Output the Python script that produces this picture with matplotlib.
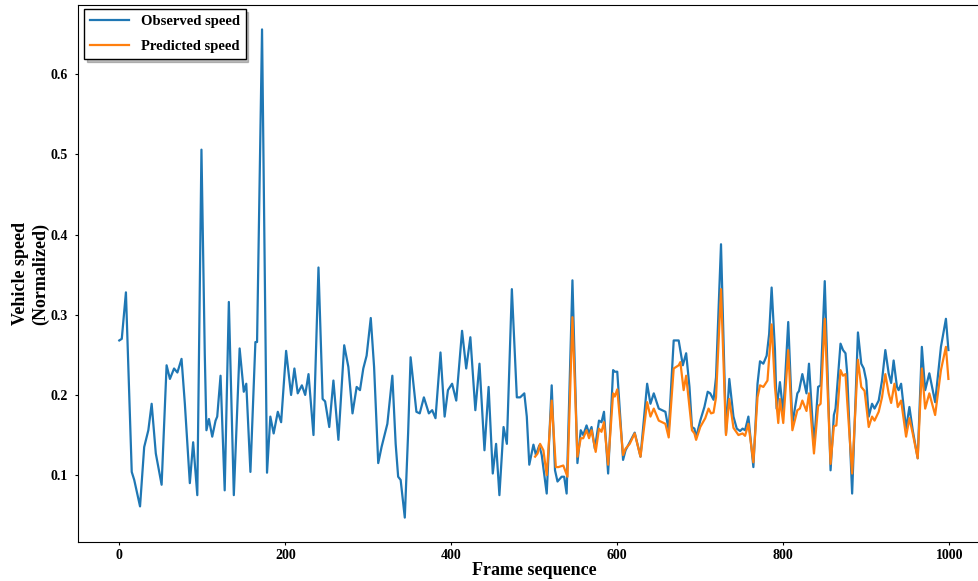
import matplotlib
matplotlib.use("Agg")
import matplotlib.pyplot as plt

# Observed speed trace (frame index, normalized speed)
obs_frame = [0, 3, 8, 15, 18, 25, 30, 35, 39, 44, 47, 51, 57, 61, 66, 70, 75, 79, 85, 89,
             94, 99, 103, 105, 108, 112, 116, 118, 122, 127, 132, 138, 145, 150, 153, 158, 164, 166, 172, 178,
             182, 186, 191, 195, 201, 207, 211, 215, 220, 224, 228, 234, 240, 245, 248, 253, 258, 264, 271, 276,
             281, 286, 290, 294, 298, 303, 307, 312, 316, 323, 329, 333, 336, 339, 344, 348, 351, 358, 362, 367,
             373, 377, 381, 387, 392, 396, 401, 406, 413, 418, 423, 429, 434, 440, 445, 450, 454, 458, 463, 467,
             473, 479, 483, 488, 491, 494, 499, 502, 506, 509, 515, 521, 525, 528, 533, 536, 539, 546, 552, 556,
             559, 563, 566, 569, 573, 578, 581, 584, 589, 595, 597, 600, 607, 610, 615, 621, 628, 636, 640, 644,
             650, 654, 658, 662, 668, 674, 679, 683, 687, 690, 693, 695, 700, 705, 709, 712, 716, 719, 725, 731,
             735, 740, 744, 748, 751, 754, 758, 764, 769, 772, 776, 780, 783, 786, 790, 792, 796, 800, 806, 811,
             817, 819, 823, 828, 831, 837, 842, 845, 850, 857, 861, 863, 869, 872, 875, 877, 883, 890, 894, 897,
             900, 903, 907, 910, 915, 919, 923, 927, 930, 933, 937, 939, 942, 948, 952, 956, 962, 967, 971, 976,
             983, 990, 996, 999]
obs_speed = [0.268, 0.270, 0.328, 0.104, 0.094, 0.061, 0.135, 0.156, 0.189, 0.127, 0.110, 0.088, 0.237, 0.220, 0.233, 0.228, 0.245, 0.189, 0.090, 0.141,
             0.075, 0.506, 0.251, 0.156, 0.170, 0.148, 0.168, 0.173, 0.224, 0.081, 0.316, 0.075, 0.258, 0.204, 0.214, 0.104, 0.266, 0.266, 0.656, 0.103,
             0.173, 0.152, 0.179, 0.166, 0.255, 0.200, 0.233, 0.202, 0.212, 0.200, 0.226, 0.150, 0.359, 0.195, 0.192, 0.160, 0.218, 0.144, 0.262, 0.235,
             0.177, 0.210, 0.206, 0.233, 0.249, 0.296, 0.235, 0.115, 0.135, 0.164, 0.224, 0.139, 0.098, 0.094, 0.047, 0.152, 0.247, 0.179, 0.177, 0.197,
             0.177, 0.181, 0.171, 0.253, 0.173, 0.206, 0.214, 0.193, 0.280, 0.233, 0.272, 0.181, 0.239, 0.131, 0.210, 0.102, 0.139, 0.075, 0.160, 0.139,
             0.332, 0.197, 0.197, 0.202, 0.173, 0.113, 0.138, 0.125, 0.137, 0.125, 0.077, 0.212, 0.106, 0.092, 0.098, 0.098, 0.077, 0.343, 0.115, 0.156,
             0.150, 0.162, 0.152, 0.160, 0.133, 0.168, 0.166, 0.179, 0.102, 0.231, 0.229, 0.229, 0.119, 0.131, 0.141, 0.153, 0.123, 0.214, 0.189, 0.202,
             0.183, 0.181, 0.179, 0.156, 0.268, 0.268, 0.237, 0.252, 0.210, 0.160, 0.158, 0.147, 0.168, 0.185, 0.204, 0.202, 0.194, 0.222, 0.388, 0.152,
             0.220, 0.173, 0.158, 0.155, 0.158, 0.156, 0.173, 0.110, 0.214, 0.242, 0.239, 0.249, 0.276, 0.334, 0.256, 0.183, 0.216, 0.177, 0.291, 0.164,
             0.202, 0.205, 0.226, 0.202, 0.239, 0.137, 0.210, 0.212, 0.342, 0.106, 0.175, 0.183, 0.264, 0.256, 0.252, 0.227, 0.077, 0.278, 0.239, 0.233,
             0.218, 0.173, 0.189, 0.183, 0.193, 0.218, 0.256, 0.227, 0.215, 0.243, 0.210, 0.206, 0.214, 0.158, 0.185, 0.156, 0.121, 0.260, 0.206, 0.227,
             0.191, 0.260, 0.295, 0.256]

# Predicted speed trace over the second half of the sequence
pred_frame = [501, 504, 507, 511, 515, 521, 526, 529, 535, 540, 546, 552, 556, 559, 563, 566, 569, 574, 578, 581,
              584, 589, 595, 597, 600, 607, 610, 615, 621, 628, 636, 640, 644, 650, 658, 662, 668, 674, 676, 680,
              683, 687, 690, 693, 695, 700, 706, 710, 713, 716, 719, 725, 731, 735, 740, 746, 751, 754, 758, 764,
              769, 772, 776, 781, 786, 790, 794, 796, 800, 806, 811, 817, 820, 823, 828, 831, 837, 842, 845, 850,
              857, 861, 864, 869, 872, 875, 877, 883, 890, 894, 898, 903, 907, 910, 915, 919, 923, 927, 930, 934,
              938, 942, 948, 952, 956, 962, 967, 971, 976, 983, 990, 996, 999]
pred_speed = [0.123, 0.127, 0.139, 0.131, 0.100, 0.193, 0.110, 0.110, 0.112, 0.098, 0.297, 0.123, 0.146, 0.146, 0.156, 0.146, 0.156, 0.129, 0.158, 0.154,
              0.166, 0.113, 0.202, 0.198, 0.207, 0.125, 0.133, 0.139, 0.152, 0.123, 0.191, 0.173, 0.183, 0.168, 0.164, 0.147, 0.233, 0.237, 0.241, 0.206,
              0.224, 0.185, 0.156, 0.152, 0.144, 0.160, 0.171, 0.183, 0.177, 0.178, 0.197, 0.332, 0.150, 0.195, 0.159, 0.150, 0.152, 0.149, 0.164, 0.116,
              0.197, 0.212, 0.210, 0.218, 0.288, 0.210, 0.165, 0.195, 0.165, 0.256, 0.156, 0.181, 0.183, 0.193, 0.180, 0.202, 0.127, 0.186, 0.189, 0.295,
              0.114, 0.161, 0.162, 0.231, 0.224, 0.226, 0.193, 0.102, 0.244, 0.210, 0.205, 0.160, 0.173, 0.168, 0.179, 0.197, 0.226, 0.202, 0.190, 0.214,
              0.185, 0.193, 0.148, 0.171, 0.152, 0.121, 0.233, 0.183, 0.202, 0.175, 0.231, 0.260, 0.220]

series_labels = ["Observed speed", "Predicted speed"]
x_title = "Frame sequence"
y_title = "Vehicle speed\n(Normalized)"

plt.rcParams["font.family"] = ["Liberation Serif", "DejaVu Serif"]
plt.rcParams["font.weight"] = "bold"

fig = plt.figure(figsize=(9.79, 5.81), dpi=100)
ax = fig.add_axes([0.0795, 0.0671, 0.9316, 0.9243])

ax.plot(obs_frame, obs_speed, color="#1f77b4", lw=1.6, label=series_labels[0],
        solid_joinstyle="round")
ax.plot(pred_frame, pred_speed, color="#ff7f0e", lw=1.6, label=series_labels[1],
        solid_joinstyle="round")

ax.set_xlabel(x_title, fontsize=13, fontweight="bold", labelpad=0)
ax.set_ylabel(y_title, fontsize=13, fontweight="bold", labelpad=1)

for lab in ax.get_xticklabels() + ax.get_yticklabels():
    lab.set_fontweight("bold")
ax.tick_params(axis="both", labelsize=10, length=2, width=0.8)
ax.tick_params(axis="y", pad=5)
ax.tick_params(axis="x", pad=3)

leg = ax.legend(loc="upper left", bbox_to_anchor=(0.0066, 0.993), borderaxespad=0,
                fontsize=10.5, frameon=True, fancybox=False, shadow={"alpha": 0.35},
                edgecolor="black", handlelength=2.7, labelspacing=0.85)
leg.get_frame().set_linewidth(1.0)
for t in leg.get_texts():
    t.set_fontweight("bold")

fig.savefig("out.png", dpi=100)
